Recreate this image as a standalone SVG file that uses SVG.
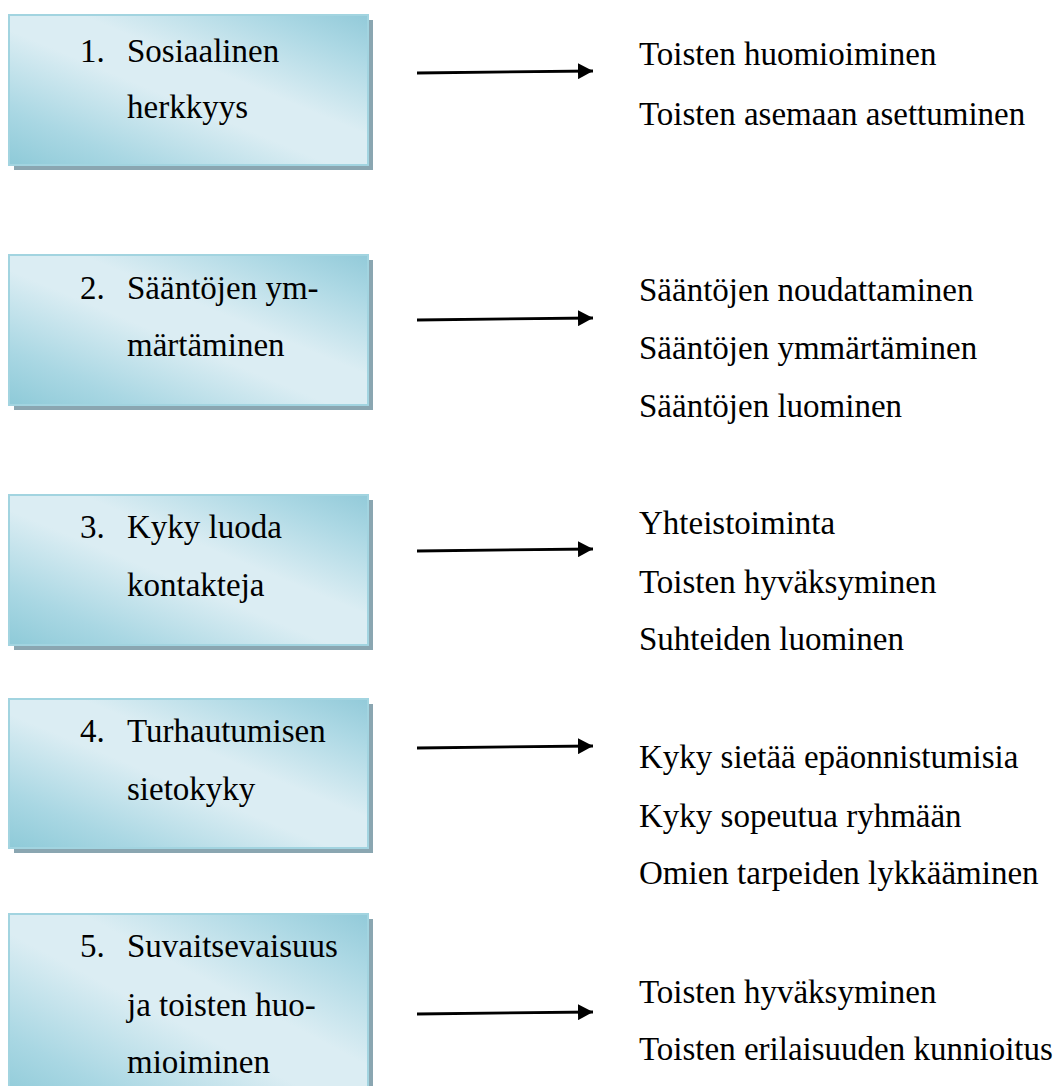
<svg xmlns="http://www.w3.org/2000/svg" width="1061" height="1086" viewBox="0 0 1061 1086">
<defs>
<linearGradient id="boxFill" x1="0" y1="1" x2="1" y2="0">
<stop offset="0" stop-color="#8ecad8"/>
<stop offset="0.18" stop-color="#a9d7e3"/>
<stop offset="0.45" stop-color="#dbedf3"/>
<stop offset="0.6" stop-color="#dbedf3"/>
<stop offset="0.85" stop-color="#acd8e4"/>
<stop offset="1" stop-color="#92cad9"/>
</linearGradient>
<marker id="arrow" markerWidth="16" markerHeight="16" refX="15" refY="8" orient="auto" markerUnits="userSpaceOnUse">
<path d="M0,0 L15,8 L0,16 Z" fill="#000"/>
</marker>
</defs>
<style>
.shadow{fill:#8aa6b1}
.box{fill:url(#boxFill);stroke:#a2d4e0;stroke-width:2}
text{font-family:"Liberation Serif","Times New Roman",serif;font-size:33px;fill:#000}
.conn{stroke:#000;stroke-width:2.8;fill:none}
</style>
<rect width="1061" height="1086" fill="#fff"/>

<g id="node1">
<rect class="shadow" x="14" y="20" width="359" height="150"/>
<rect class="box" x="9" y="15" width="359" height="150"/>
<text x="80" y="62">1.</text><text x="127" y="62">Sosiaalinen</text>
<text x="127" y="118">herkkyys</text>
</g>
<g id="node2">
<rect class="shadow" x="14" y="260" width="359" height="150"/>
<rect class="box" x="9" y="255" width="359" height="150"/>
<text x="80" y="299">2.</text><text x="127" y="299">Sääntöjen ym-</text>
<text x="127" y="356">märtäminen</text>
</g>
<g id="node3">
<rect class="shadow" x="14" y="500" width="359" height="150"/>
<rect class="box" x="9" y="495" width="359" height="150"/>
<text x="80" y="538">3.</text><text x="127" y="538">Kyky luoda</text>
<text x="127" y="596">kontakteja</text>
</g>
<g id="node4">
<rect class="shadow" x="14" y="704" width="359" height="149"/>
<rect class="box" x="9" y="699" width="359" height="149"/>
<text x="80" y="742">4.</text><text x="127" y="742">Turhautumisen</text>
<text x="127" y="800">sietokyky</text>
</g>
<g id="node5">
<rect class="shadow" x="14" y="919" width="359" height="190"/>
<rect class="box" x="9" y="914" width="359" height="190"/>
<text x="80" y="957">5.</text><text x="127" y="957">Suvaitsevaisuus</text>
<text x="127" y="1016">ja toisten huo-</text>
<text x="127" y="1073">mioiminen</text>
</g>

<g id="connectors">
<line class="conn" x1="417" y1="73" x2="593" y2="71" marker-end="url(#arrow)"/>
<line class="conn" x1="417" y1="320" x2="593" y2="318" marker-end="url(#arrow)"/>
<line class="conn" x1="417" y1="551" x2="593" y2="549" marker-end="url(#arrow)"/>
<line class="conn" x1="417" y1="748" x2="593" y2="746" marker-end="url(#arrow)"/>
<line class="conn" x1="417" y1="1014" x2="593" y2="1012" marker-end="url(#arrow)"/>
</g>

<g id="labels">
<text x="639" y="65">Toisten huomioiminen</text>
<text x="639" y="125">Toisten asemaan asettuminen</text>
<text x="639" y="301">Sääntöjen noudattaminen</text>
<text x="639" y="359">Sääntöjen ymmärtäminen</text>
<text x="639" y="417">Sääntöjen luominen</text>
<text x="639" y="534">Yhteistoiminta</text>
<text x="639" y="593">Toisten hyväksyminen</text>
<text x="639" y="650">Suhteiden luominen</text>
<text x="639" y="768">Kyky sietää epäonnistumisia</text>
<text x="639" y="827">Kyky sopeutua ryhmään</text>
<text x="639" y="884">Omien tarpeiden lykkääminen</text>
<text x="639" y="1003">Toisten hyväksyminen</text>
<text x="639" y="1060">Toisten erilaisuuden kunnioitus</text>
</g>
</svg>
